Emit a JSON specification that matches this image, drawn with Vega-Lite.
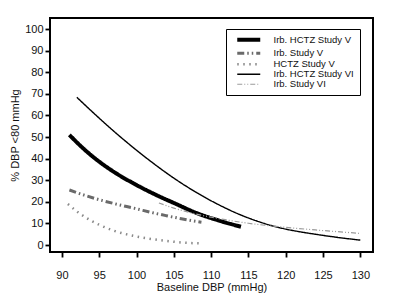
{
  "$schema": "https://vega.github.io/schema/vega-lite/v6.json",
  "width": 323,
  "height": 234,
  "autosize": {"type": "none"},
  "padding": {"left": 50, "top": 18, "right": 27, "bottom": 52},
  "background": "white",
  "config": {
    "font": "Liberation Sans",
    "view": {"stroke": "black", "strokeWidth": 2},
    "axis": {"grid": false, "domain": false, "tickColor": "black", "tickWidth": 1.8, "tickSize": 5, "labelFontSize": 11, "labelColor": "#111", "titleFontSize": 11, "titleFontWeight": "normal", "titleColor": "#111"}
  },
  "data": {"values": [
    {"s": "Irb. HCTZ Study V", "x": 91, "y": 51},
    {"s": "Irb. HCTZ Study V", "x": 93, "y": 44.3},
    {"s": "Irb. HCTZ Study V", "x": 95, "y": 38.6},
    {"s": "Irb. HCTZ Study V", "x": 97, "y": 33.8},
    {"s": "Irb. HCTZ Study V", "x": 100, "y": 27.8},
    {"s": "Irb. HCTZ Study V", "x": 103, "y": 22.6},
    {"s": "Irb. HCTZ Study V", "x": 105, "y": 19.5},
    {"s": "Irb. HCTZ Study V", "x": 108, "y": 14.9},
    {"s": "Irb. HCTZ Study V", "x": 111, "y": 11.4},
    {"s": "Irb. HCTZ Study V", "x": 114, "y": 8.5},
    {"s": "Irb. Study V", "x": 91, "y": 25.5},
    {"s": "Irb. Study V", "x": 93, "y": 23.1},
    {"s": "Irb. Study V", "x": 95, "y": 21},
    {"s": "Irb. Study V", "x": 97, "y": 19.2},
    {"s": "Irb. Study V", "x": 100, "y": 16.8},
    {"s": "Irb. Study V", "x": 102, "y": 15.1},
    {"s": "Irb. Study V", "x": 104, "y": 13.6},
    {"s": "Irb. Study V", "x": 106, "y": 12.2},
    {"s": "Irb. Study V", "x": 108.7, "y": 10.6},
    {"s": "HCTZ Study V", "x": 90.8, "y": 19},
    {"s": "HCTZ Study V", "x": 92, "y": 15.6},
    {"s": "HCTZ Study V", "x": 93, "y": 13.2},
    {"s": "HCTZ Study V", "x": 94, "y": 11.1},
    {"s": "HCTZ Study V", "x": 95, "y": 9.4},
    {"s": "HCTZ Study V", "x": 97, "y": 6.6},
    {"s": "HCTZ Study V", "x": 100, "y": 4},
    {"s": "HCTZ Study V", "x": 102, "y": 2.8},
    {"s": "HCTZ Study V", "x": 104.4, "y": 1.8},
    {"s": "HCTZ Study V", "x": 106, "y": 1.2},
    {"s": "HCTZ Study V", "x": 108.5, "y": 0.8},
    {"s": "Irb. HCTZ Study VI", "x": 92, "y": 68.4},
    {"s": "Irb. HCTZ Study VI", "x": 94, "y": 61.9},
    {"s": "Irb. HCTZ Study VI", "x": 96, "y": 55.6},
    {"s": "Irb. HCTZ Study VI", "x": 98, "y": 49.6},
    {"s": "Irb. HCTZ Study VI", "x": 100, "y": 43.9},
    {"s": "Irb. HCTZ Study VI", "x": 102, "y": 38.5},
    {"s": "Irb. HCTZ Study VI", "x": 104, "y": 33.4},
    {"s": "Irb. HCTZ Study VI", "x": 106, "y": 28.7},
    {"s": "Irb. HCTZ Study VI", "x": 108, "y": 24.4},
    {"s": "Irb. HCTZ Study VI", "x": 110, "y": 20.5},
    {"s": "Irb. HCTZ Study VI", "x": 112, "y": 17},
    {"s": "Irb. HCTZ Study VI", "x": 114, "y": 13.9},
    {"s": "Irb. HCTZ Study VI", "x": 116, "y": 11.3},
    {"s": "Irb. HCTZ Study VI", "x": 118, "y": 9.1},
    {"s": "Irb. HCTZ Study VI", "x": 120, "y": 7.4},
    {"s": "Irb. HCTZ Study VI", "x": 122, "y": 6.1},
    {"s": "Irb. HCTZ Study VI", "x": 124, "y": 5},
    {"s": "Irb. HCTZ Study VI", "x": 126, "y": 4},
    {"s": "Irb. HCTZ Study VI", "x": 128, "y": 3.1},
    {"s": "Irb. HCTZ Study VI", "x": 130, "y": 2.3},
    {"s": "Irb. Study VI", "x": 103, "y": 19.5},
    {"s": "Irb. Study VI", "x": 105, "y": 17.1},
    {"s": "Irb. Study VI", "x": 107, "y": 15.2},
    {"s": "Irb. Study VI", "x": 110, "y": 12.9},
    {"s": "Irb. Study VI", "x": 112.5, "y": 11.4},
    {"s": "Irb. Study VI", "x": 115, "y": 10.1},
    {"s": "Irb. Study VI", "x": 118, "y": 8.9},
    {"s": "Irb. Study VI", "x": 121, "y": 7.9},
    {"s": "Irb. Study VI", "x": 124, "y": 7},
    {"s": "Irb. Study VI", "x": 127, "y": 6.2},
    {"s": "Irb. Study VI", "x": 130, "y": 5.4}
  ]},
  "mark": {"type": "line", "interpolate": "monotone", "clip": true},
  "encoding": {
    "x": {"field": "x", "type": "quantitative", "title": "Baseline DBP (mmHg)",
      "scale": {"domain": [88.4, 131.7], "nice": false, "zero": false},
      "axis": {"values": [90, 95, 100, 105, 110, 115, 120, 125, 130], "labelPadding": 12, "titlePadding": 1}},
    "y": {"field": "y", "type": "quantitative", "title": "% DBP <80 mmHg",
      "scale": {"domain": [-3.2, 105.1], "nice": false, "zero": false},
      "axis": {"values": [0, 10, 20, 30, 40, 50, 60, 70, 80, 90, 100], "labelPadding": 2, "titlePadding": 4}},
    "color": {"field": "s", "type": "nominal", "title": null,
      "scale": {"domain": ["Irb. HCTZ Study V", "Irb. Study V", "HCTZ Study V", "Irb. HCTZ Study VI", "Irb. Study VI"],
        "range": ["#000000", "#6a6a6a", "#8a8a8a", "#000000", "#9a9a9a"]},
      "legend": {"orient": "none", "legendX": 176, "legendY": 11, "strokeColor": "black",
        "padding": 6, "symbolType": "M-5.75,0H5.75", "symbolSize": 16, "symbolOffset": 12, "rowPadding": -1.5, "labelFontSize": 9.5,
        "labelColor": "#111", "labelOffset": 20, "labelLimit": 200, "fillColor": "white",
        "encoding": {"legend": {"update": {"strokeWidth": {"value": 1.5}}}}}},
    "strokeDash": {"field": "s", "type": "nominal", "title": null,
      "scale": {"domain": ["Irb. HCTZ Study V", "Irb. Study V", "HCTZ Study V", "Irb. HCTZ Study VI", "Irb. Study VI"],
        "range": [[1, 0], [7, 3, 1.5, 3, 1.5, 3], [1.5, 4.5], [1, 0], [5, 2, 1, 2, 1, 2]]}},
    "strokeWidth": {"field": "s", "type": "nominal", "title": null,
      "scale": {"type": "ordinal", "domain": ["Irb. HCTZ Study V", "Irb. Study V", "HCTZ Study V", "Irb. HCTZ Study VI", "Irb. Study VI"],
        "range": [4, 3, 2.5, 1.4, 1.2]}}
  }
}
